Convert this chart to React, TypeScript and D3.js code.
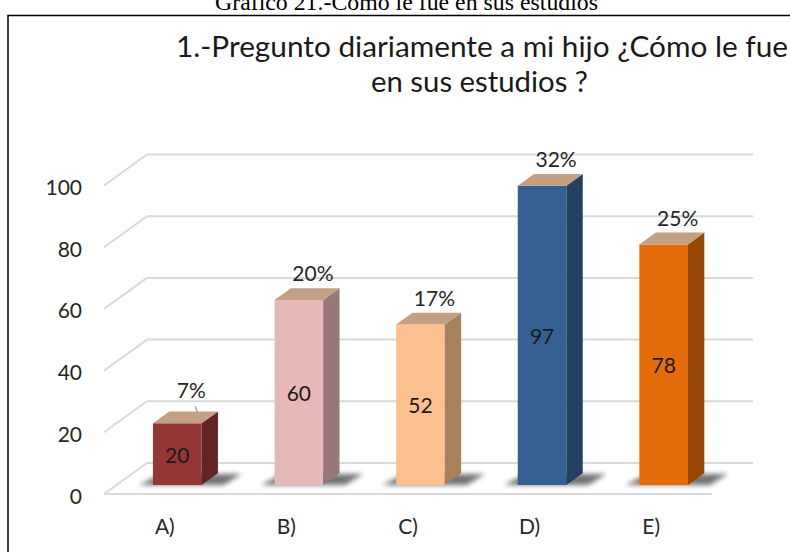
import React from "react";
import * as d3 from "d3";

const categories = ["A)", "B)", "C)", "D)", "E)"];
const values = [20, 60, 52, 97, 78];
const percents = ["7%", "20%", "17%", "32%", "25%"];
const yTicks = [0, 20, 40, 60, 80, 100];
const frontColors = ["#953735", "#E6B9B8", "#FAC090", "#376092", "#E46C0A"];
const sideColors = ["#632523", "#957877", "#A6825F", "#243F60", "#974806"];
const topColor = "#C2A084";
const caption = "Gráfico 21.-Cómo le fue en sus estudios";
const titleLines = ["1.-Pregunto diariamente a mi hijo ¿Cómo le fue", "en sus estudios ?"];

const W = 790;
const H = 552;
const FONT = "Lato, 'Open Sans', sans-serif";

export default function App() {
  const floorY = 494;
  const depthX = 43;
  const depthY = 31;
  const x0 = 104;
  const x1 = 712;
  const hScale = d3.scaleLinear().domain([0, 100]).range([0, 308.5]);
  const xBand = d3.scaleBand<string>().domain(categories).range([x0, x1]).paddingInner(0.6).paddingOuter(0.3);
  const P = (x: number, v: number, d: number): [number, number] => [x + depthX * d, floorY - depthY * d - hScale(v)];
  const dFront = 0.29;
  const dBack = 0.67;
  const poly = (pts: [number, number][]) => pts.map((p) => p.join(",")).join(" ");
  const grid = "#D9D9D9";

  return (
    <svg width={W} height={H} style={{ position: "absolute", left: 0, top: 0, background: "#fff" }}>
      <defs>
        <filter id="blur" x="-50%" y="-50%" width="200%" height="200%">
          <feGaussianBlur stdDeviation="2.5" />
        </filter>
      </defs>
      <rect x={0} y={0} width={W} height={H} fill="#fff" />
      <text x={406.5} y={10} textAnchor="middle" fontFamily="'Liberation Serif', 'Times New Roman', serif" fontSize={23} fill="#000" textLength={383} lengthAdjust="spacingAndGlyphs">
        {caption}
      </text>
      <rect x={8} y={15.5} width={1000} height={700} fill="none" stroke="#000" strokeWidth={1.5} />
      <text x={482} y={57} textAnchor="middle" fontFamily={FONT} fontSize={29} fill="#1a1a1a" textLength={612} lengthAdjust="spacingAndGlyphs">
        {titleLines[0]}
      </text>
      <text x={479.5} y={92} textAnchor="middle" fontFamily={FONT} fontSize={29} fill="#1a1a1a" textLength={217} lengthAdjust="spacingAndGlyphs">
        {titleLines[1]}
      </text>

      {yTicks.map((t) => {
        const a = P(x0, t, 0);
        const b = P(x0, t, 1);
        return (
          <g key={t}>
            <line x1={a[0]} y1={a[1]} x2={b[0]} y2={b[1]} stroke={grid} strokeWidth={2} />
            <line x1={b[0]} y1={b[1]} x2={x1 + 41} y2={b[1]} stroke={grid} strokeWidth={2} />
            <text x={82} y={a[1] + 1} textAnchor="end" dominantBaseline="central" fontFamily={FONT} fontSize={21} fill="#262626">
              {t}
            </text>
          </g>
        );
      })}
      <line x1={x0} y1={floorY} x2={x1} y2={floorY} stroke={grid} strokeWidth={2} />

      {categories.map((c, i) => {
        const bx0 = xBand(c)!;
        const bx1 = bx0 + xBand.bandwidth();
        const v = values[i];
        const fbl = P(bx0, 0, dFront);
        const fbr = P(bx1, 0, dFront);
        const shadow: [number, number][] = [
          [fbl[0] - 14, fbl[1]],
          [fbr[0] + 22, fbr[1]],
          [fbr[0] + 40, fbr[1] - 11],
          [fbl[0] + 8, fbl[1] - 11],
        ];
        const front: [number, number][] = [P(bx0, 0, dFront), P(bx1, 0, dFront), P(bx1, v, dFront), P(bx0, v, dFront)];
        const side: [number, number][] = [P(bx1, 0, dFront), P(bx1, 0, dBack), P(bx1, v, dBack), P(bx1, v, dFront)];
        const top: [number, number][] = [P(bx0, v, dFront), P(bx1, v, dFront), P(bx1, v, dBack), P(bx0, v, dBack)];
        const cx = (bx0 + bx1) / 2 + depthX * dFront;
        const topY = P(bx0, v, dFront)[1];
        const midY = (topY + fbl[1]) / 2;
        const isA = i === 0;
        const pctY = isA ? topY - 34 : topY - 27;
        return (
          <g key={c}>
            <polygon points={poly(shadow)} fill="#000" opacity={0.55} filter="url(#blur)" />
            <polygon points={poly(front)} fill={frontColors[i]} />
            <polygon points={poly(side)} fill={sideColors[i]} />
            <polygon points={poly(top)} fill={topColor} />
            <text x={cx} y={midY} textAnchor="middle" dominantBaseline="central" fontFamily={FONT} fontSize={21} fill="#1a1a1a">
              {v}
            </text>
            {isA && <line x1={cx + 18} y1={pctY + 17} x2={cx + 23} y2={topY - 2} stroke="#A6A6A6" strokeWidth={1.5} />}
            <text x={cx + 14} y={pctY} textAnchor="middle" dominantBaseline="central" fontFamily={FONT} fontSize={21} fill="#262626">
              {percents[i]}
            </text>
            <text x={(bx0 + bx1) / 2} y={525} textAnchor="middle" dominantBaseline="central" fontFamily={FONT} fontSize={21} fill="#262626">
              {c}
            </text>
          </g>
        );
      })}
    </svg>
  );
}
